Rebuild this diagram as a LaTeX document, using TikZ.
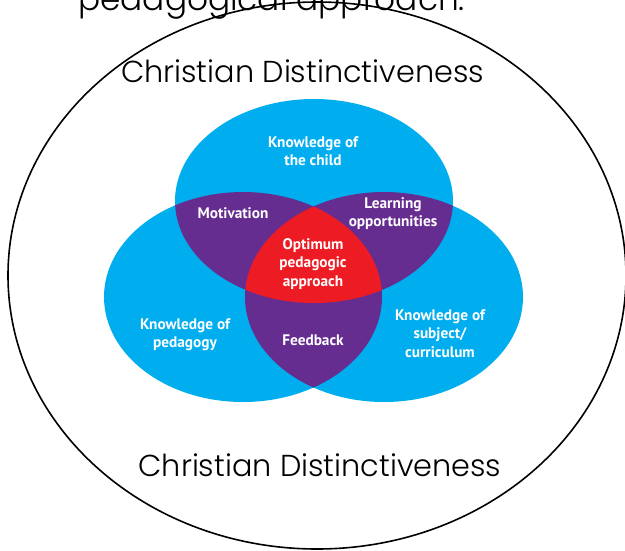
\documentclass[tikz,border=0pt]{standalone}
\usepackage{fontspec}
\newfontfamily\gothic{Poppins Light}
\newfontfamily\venn{PT Sans}
\definecolor{vblue}{HTML}{00AEEF}
\definecolor{vpurple}{HTML}{662D91}
\definecolor{vred}{HTML}{ED1C24}
\begin{document}
\begin{tikzpicture}[x=1pt,y=-1pt,
  lab/.style={text=white,font=\venn\bfseries\fontsize{15.3}{18.3}\selectfont,align=center,inner sep=0pt},
  cd/.style={font=\gothic\fontsize{30.3}{35}\selectfont,inner sep=0pt}]
\useasboundingbox (0,0) rectangle (625,550);
\def\topE{(314,201) ellipse [x radius=139, y radius=102]}
\def\leftE{(243,297) ellipse [x radius=139, y radius=105]}
\def\rightE{(384,297) ellipse [x radius=139, y radius=105]}
% outer ellipse
\draw[line width=1.6pt] (317,275.5) ellipse [x radius=309, y radius=273.5];
\draw[white,line width=3pt] (77.5,98.5) -- (83.5,91.5);
% venn
\fill[vblue] \topE;
\fill[vblue] \leftE;
\fill[vblue] \rightE;
\begin{scope}
  \clip \topE;
  \fill[vpurple] \leftE;
  \fill[vpurple] \rightE;
\end{scope}
\begin{scope}
  \clip \leftE;
  \fill[vpurple] \rightE;
\end{scope}
\begin{scope}
  \clip \topE;
  \clip \leftE;
  \fill[vred] \rightE;
\end{scope}
% labels
\node[lab] (child) at (313,151) {Knowledge of\\the child};
\node[lab] (motiv) at (233,213) {Motivation};
\node[lab] (learn) at (393,213.5) {Learning\\opportunities};
\node[lab] (optim) at (313,264) {Optimum\\pedagogic\\approach};
\node[lab] (pedag) at (185,334.5) {Knowledge of\\pedagogy};
\node[lab] (feed) at (313,340) {Feedback};
\node[lab] (subj) at (440,333.5) {Knowledge of\\subject/\\curriculum};
% texts
\node[cd,anchor=base west,font=\gothic\fontsize{32.8}{38}\selectfont] (cut) at (78,10) {pedagogical approach.};
\node[cd,anchor=base] (cdtop) at (302.5,82) {Christian Distinctiveness};
\node[cd,anchor=base] (cdbot) at (320,476) {Christian Distinctiveness};
\end{tikzpicture}
\end{document}
